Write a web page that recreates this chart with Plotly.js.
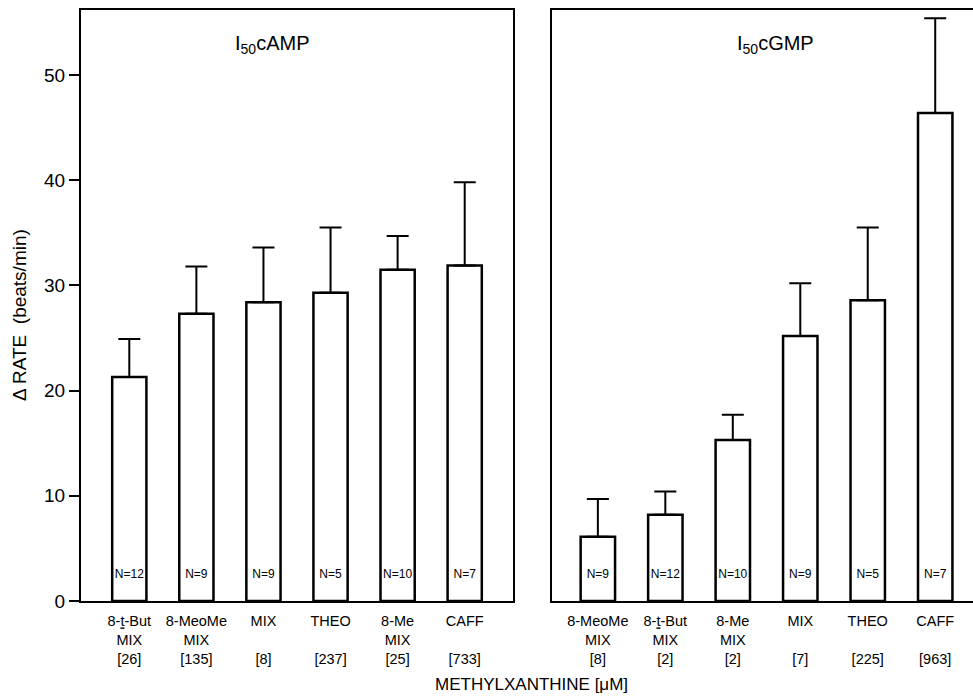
<!DOCTYPE html>
<html>
<head>
<meta charset="utf-8">
<script src="https://cdn.plot.ly/plotly-3.0.1.min.js"></script>
<style>html,body{margin:0;padding:0;background:#fff;}#chart{width:973px;height:698px;}</style>
</head>
<body>
<div id="chart"></div>
<script>
// ---- data ----
const campLabels = ["8-<span style='text-decoration:underline'>t</span>-But<br>MIX<br>[26]", "8-MeoMe<br>MIX<br>[135]", "MIX<br> <br>[8]", "THEO<br> <br>[237]", "8-Me<br>MIX<br>[25]", "CAFF<br> <br>[733]"];
const campMean = [21.3, 27.3, 28.4, 29.3, 31.5, 31.9];
const campSE   = [3.6, 4.5, 5.2, 6.2, 3.2, 7.9];
const campN    = ["N=12", "N=9", "N=9", "N=5", "N=10", "N=7"];

const cgmpLabels = ["8-MeoMe<br>MIX<br>[8]", "8-<span style='text-decoration:underline'>t</span>-But<br>MIX<br>[2]", "8-Me<br>MIX<br>[2]", "MIX<br> <br>[7]", "THEO<br> <br>[225]", "CAFF<br> <br>[963]"];
const cgmpMean = [6.1, 8.2, 15.3, 25.2, 28.6, 46.4];
const cgmpSE   = [3.6, 2.2, 2.4, 5.0, 6.9, 9.0];
const cgmpN    = ["N=9", "N=12", "N=10", "N=9", "N=5", "N=7"];

const nLabelY = 2.5;
const xIdx = [0, 1, 2, 3, 4, 5];

const font = "Liberation Sans, Arial, sans-serif";
const barStyle = {color: "#fff", line: {color: "#000", width: 2.5}};
const errStyle = (se) => ({type: "data", symmetric: false, array: se, arrayminus: se.map(() => 0), color: "#000", thickness: 2, width: 11});

const traces = [
  {type: "bar", x: xIdx, y: campMean, width: 0.51, marker: barStyle, error_y: errStyle(campSE), xaxis: "x", yaxis: "y", hoverinfo: "none"},
  {type: "scatter", mode: "text", x: xIdx, y: campMean.map(() => nLabelY), text: campN, textfont: {family: font, size: 12, color: "#000"}, xaxis: "x", yaxis: "y", hoverinfo: "none"},
  {type: "bar", x: xIdx, y: cgmpMean, width: 0.51, marker: barStyle, error_y: errStyle(cgmpSE), xaxis: "x2", yaxis: "y2", hoverinfo: "none"},
  {type: "scatter", mode: "text", x: xIdx, y: cgmpMean.map(() => nLabelY), text: cgmpN, textfont: {family: font, size: 12, color: "#000"}, xaxis: "x2", yaxis: "y2", hoverinfo: "none"}
];

const yRange = [0, 56.18];
const layout = {
  width: 973, height: 698,
  margin: {l: 81, r: 0, t: 10, b: 97},
  paper_bgcolor: "#fff", plot_bgcolor: "#fff",
  showlegend: false,
  font: {family: font, color: "#000", size: 15},
  xaxis: {domain: [0, 0.4843], range: [-0.72, 5.72], tickvals: xIdx, ticktext: campLabels, showline: true, mirror: true, linecolor: "#000", linewidth: 2, ticks: "", ticklabelstandoff: 6, showgrid: false, zeroline: false, tickfont: {size: 14.5}, fixedrange: true},
  yaxis: {domain: [0, 1], range: yRange, tickvals: [0, 10, 20, 30, 40, 50], showline: true, mirror: true, linecolor: "#000", linewidth: 2, ticks: "outside", ticklen: 10, tickwidth: 2, tickcolor: "#000", showgrid: false, zeroline: false, tickfont: {size: 19}},
  xaxis2: {domain: [0.528, 1], range: [-0.68, 5.56], tickvals: xIdx, ticktext: cgmpLabels, showline: true, mirror: true, linecolor: "#000", linewidth: 2, ticks: "", ticklabelstandoff: 6, showgrid: false, zeroline: false, tickfont: {size: 14.5}, anchor: "y2"},
  yaxis2: {domain: [0, 1], range: yRange, anchor: "x2", showline: true, linecolor: "#000", linewidth: 2, showticklabels: false, ticks: "", showgrid: false, zeroline: false},
  annotations: [
    {xref: "paper", yref: "paper", x: -0.0684, y: 0.484, xanchor: "center", yanchor: "middle", textangle: -90, text: "Δ RATE  (beats/min)", showarrow: false, font: {size: 19}},
    {xref: "paper", yref: "paper", x: 0.214, y: 0.941, yanchor: "middle", text: "I<sub>50</sub>cAMP", showarrow: false, font: {size: 20}, xanchor: "center"},
    {xref: "paper", yref: "paper", x: 0.779, y: 0.941, yanchor: "middle", text: "I<sub>50</sub>cGMP", showarrow: false, font: {size: 20}, xanchor: "center"},
    {xref: "paper", yref: "paper", x: 0.505, y: -0.142, yanchor: "middle", text: "METHYLXANTHINE [μM]", showarrow: false, font: {size: 17}, xanchor: "center"}
  ]
};

Plotly.newPlot("chart", traces, layout, {displayModeBar: false, staticPlot: true});
</script>
</body>
</html>
